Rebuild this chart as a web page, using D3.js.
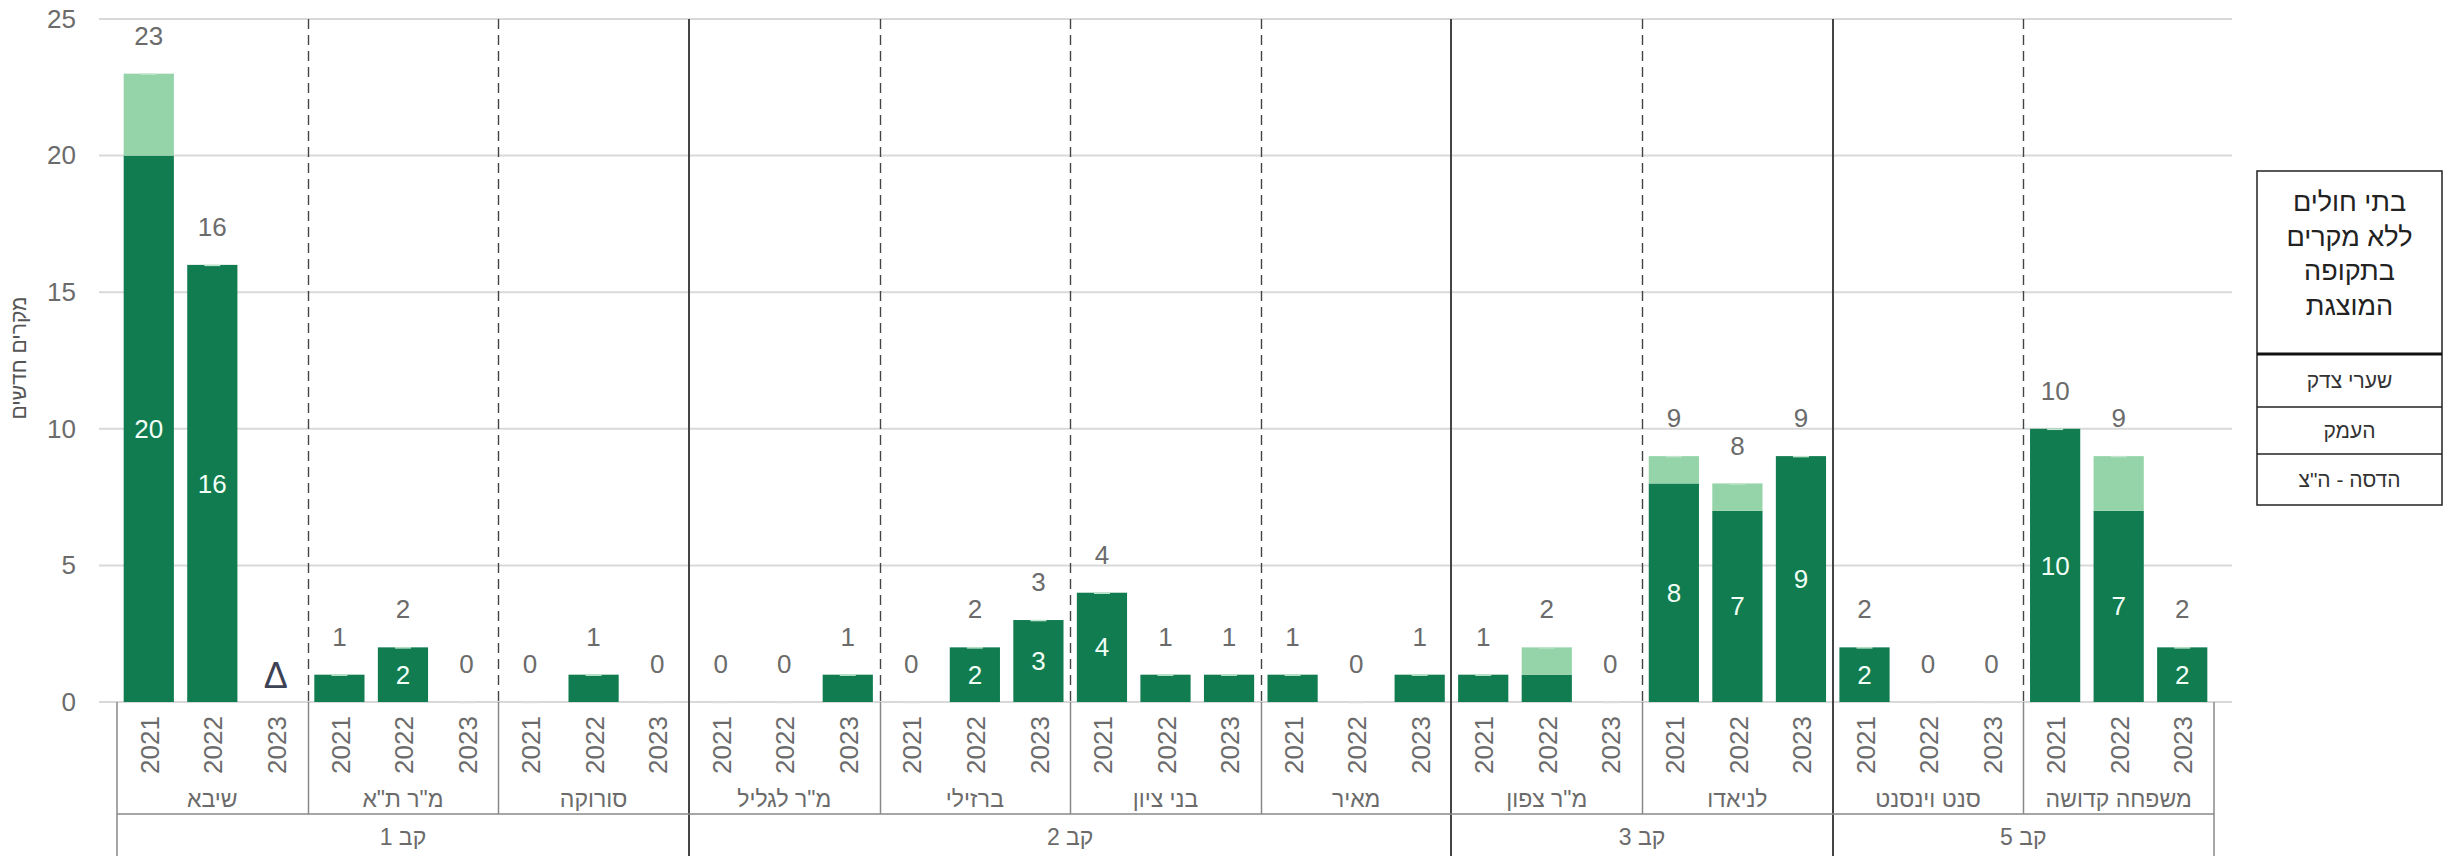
<!DOCTYPE html>
<html><head><meta charset="utf-8">
<script src="https://cdn.jsdelivr.net/npm/d3@7"></script>
<style>
html,body{margin:0;padding:0;background:#fff;}
svg{display:block;font-family:"Liberation Sans",Arial,sans-serif;}
.num{font-family:"Liberation Sans Narrow","Liberation Sans",Arial,sans-serif;}
</style></head>
<body>
<svg id="chart" width="2455" height="856"></svg>
<script>
// ---------- DATA ----------
const hospitals = ["שיבא","מ\"ר ת\"א","סורוקה","מ\"ר לגליל","ברזילי","בני ציון","מאיר","מ\"ר צפון","לניאדו","סנט וינסנט","משפחה קדושה"];
const kavs = ["קב 1","קב 2","קב 3","קב 5"];
const kavSizes = [3,4,2,2];
const years = ["2021","2022","2023"];
// dark series (main), null = no data (shown with Δ)
const darkValues = [[20,16,null],[1,2,0],[0,1,0],[0,0,1],[0,2,3],[4,1,1],[1,0,1],[1,1,0],[8,7,9],[2,0,0],[10,7,2]];
// light series (stacked above)
const lightValues = [[3,0,null],[0,0,0],[0,0,0],[0,0,0],[0,0,0],[0,0,0],[0,0,0],[0,1,0],[1,1,0],[0,0,0],[0,2,0]];
const yTicks = [0,5,10,15,20,25];
const yTitle = "מקרים חדשים";
const legendHeader = ["בתי חולים","ללא מקרים","בתקופה","המוצגת"];
const legendRows = ["שערי צדק","העמק","הדסה - ה\"צ"];
const missingSymbol = "Δ";

// ---------- LAYOUT ----------
const svg = d3.select("#chart");
const X0 = 117, X1 = 2214, Y0 = 702, YTOP = 19;
const C_DARK = "#117c50", C_LIGHT = "#95d4a9", C_GRID = "#d9d9d9", C_TXT = "#6b6b6b", C_LINE = "#444";
const NUM_SIZE = 26;

const rows = [];
hospitals.forEach((h,i)=>years.forEach((yr,j)=>{
  rows.push({key:h+"|"+yr, h, hi:i, yr, dark:darkValues[i][j], light:lightValues[i][j]});
}));

const x = d3.scaleBand().domain(rows.map(d=>d.key)).range([X0,X1]).paddingInner(0.21).paddingOuter(0.105);
const y = d3.scaleLinear().domain([0,25]).range([Y0,YTOP]);
const step = x.step();
const groupX = i => X0 + i*3*step;

// gridlines
svg.append("g").selectAll("line").data(yTicks).join("line")
  .attr("x1",99).attr("x2",2232).attr("y1",d=>y(d)).attr("y2",d=>y(d))
  .attr("stroke",C_GRID).attr("stroke-width",2);

// y axis labels
const yAxis = d3.axisLeft(y).tickValues(yTicks).tickSize(0).tickPadding(0);
const ya = svg.append("g").attr("transform","translate(76,0)").call(yAxis);
ya.select(".domain").remove();
ya.selectAll("text").attr("class","num").attr("font-size",NUM_SIZE).attr("fill",C_TXT).attr("font-family",null);

// y title
svg.append("text").attr("transform","translate(26,358) rotate(-90)")
  .attr("text-anchor","middle").attr("font-size",21).attr("fill","#555").text(yTitle);

// kav boundaries & hospital boundaries
let kavStart = [0]; kavSizes.forEach((s,i)=>kavStart.push(kavStart[i]+s));
const kavBound = new Set(kavStart);
for(let i=1;i<hospitals.length;i++){
  const xx = Math.round(groupX(i));
  if(kavBound.has(i)){
    svg.append("line").attr("x1",xx).attr("x2",xx).attr("y1",YTOP).attr("y2",856)
      .attr("stroke",C_LINE).attr("stroke-width",2);
  } else {
    svg.append("line").attr("x1",xx+0.5).attr("x2",xx+0.5).attr("y1",YTOP).attr("y2",Y0)
      .attr("stroke",C_LINE).attr("stroke-width",1.4).attr("stroke-dasharray","10,6");
    svg.append("line").attr("x1",xx+0.5).attr("x2",xx+0.5).attr("y1",Y0).attr("y2",814)
      .attr("stroke","#888").attr("stroke-width",1.5);
  }
}
// box edges
[X0,X1].forEach(xx=>svg.append("line").attr("x1",xx).attr("x2",xx).attr("y1",Y0).attr("y2",856)
  .attr("stroke","#888").attr("stroke-width",1.5));
svg.append("line").attr("x1",X0).attr("x2",X1).attr("y1",814).attr("y2",814)
  .attr("stroke","#888").attr("stroke-width",1.5);

// bars
const bars = svg.append("g");
rows.filter(d=>d.dark!==null).forEach(d=>{
  const bx = x(d.key), bw = x.bandwidth();
  if(d.dark>0) bars.append("rect").attr("x",bx).attr("width",bw)
    .attr("y",y(d.dark)).attr("height",y(0)-y(d.dark)).attr("fill",C_DARK);
  if(d.light>0) bars.append("rect").attr("x",bx).attr("width",bw)
    .attr("y",y(d.dark+d.light)).attr("height",y(d.dark)-y(d.dark+d.light)).attr("fill",C_LIGHT);
  const tot = d.dark+d.light;
  // small cap marks
  bars.append("line").attr("x1",bx+bw/2-8).attr("x2",bx+bw/2+8)
    .attr("y1",y(tot)+0.5).attr("y2",y(tot)+0.5)
    .attr("stroke",tot>0?"#bfe6cc":"#ddd").attr("stroke-width",1.5);
  // total label
  svg.append("text").attr("class","num").attr("x",bx+bw/2).attr("y",y(tot)-38).attr("dy","0.35em")
    .attr("text-anchor","middle").attr("font-size",NUM_SIZE).attr("fill",C_TXT).text(tot);
  // inner label
  if(d.dark>=2) svg.append("text").attr("class","num").attr("x",bx+bw/2).attr("y",(y(0)+y(d.dark))/2).attr("dy","0.35em")
    .attr("text-anchor","middle").attr("font-size",NUM_SIZE).attr("fill","#f2fff6").text(d.dark);
});
// missing marker
rows.filter(d=>d.dark===null).forEach(d=>{
  svg.append("text").attr("x",x(d.key)+x.bandwidth()/2).attr("y",y(0)-27).attr("dy","0.35em")
    .attr("text-anchor","middle").attr("font-size",36).attr("fill","#3d4354").text(missingSymbol);
});

// year labels
svg.append("g").selectAll("text").data(rows).join("text").attr("class","num")
  .attr("transform",d=>`translate(${x(d.key)+x.bandwidth()/2+1},745) rotate(-90)`)
  .attr("text-anchor","middle").attr("dy","0.35em").attr("font-size",NUM_SIZE).attr("fill",C_TXT)
  .text(d=>d.yr);

// hospital labels
svg.append("g").selectAll("text").data(hospitals).join("text")
  .attr("x",(d,i)=>groupX(i)+1.5*step).attr("y",799).attr("dy","0.35em")
  .attr("text-anchor","middle").attr("direction","rtl").attr("font-size",23).attr("fill",C_TXT).text(d=>d);

// kav labels
svg.append("g").selectAll("text").data(kavs).join("text")
  .attr("x",(d,i)=>(groupX(kavStart[i])+groupX(kavStart[i+1]))/2).attr("y",837).attr("dy","0.35em")
  .attr("text-anchor","middle").attr("direction","rtl").attr("font-size",23).attr("fill",C_TXT).text(d=>d);

// legend box
const L = {x:2257, w:185, top:171, hdr:354, r1:407, r2:454, bot:505};
const lg = svg.append("g");
lg.append("rect").attr("x",L.x).attr("y",L.top).attr("width",L.w).attr("height",L.bot-L.top)
  .attr("fill","#fff").attr("stroke","#222").attr("stroke-width",1.5);
lg.append("line").attr("x1",L.x).attr("x2",L.x+L.w).attr("y1",L.hdr).attr("y2",L.hdr).attr("stroke","#111").attr("stroke-width",3);
[L.r1,L.r2].forEach(yy=>lg.append("line").attr("x1",L.x).attr("x2",L.x+L.w).attr("y1",yy).attr("y2",yy).attr("stroke","#222").attr("stroke-width",1.5));
const cx = L.x+L.w/2;
legendHeader.forEach((t,i)=>lg.append("text").attr("x",cx).attr("y",202+i*34.5).attr("dy","0.35em")
  .attr("text-anchor","middle").attr("direction","rtl").attr("font-size",27).attr("fill","#222").text(t));
const rowMid = [(L.hdr+L.r1)/2,(L.r1+L.r2)/2,(L.r2+L.bot)/2];
legendRows.forEach((t,i)=>lg.append("text").attr("x",cx).attr("y",rowMid[i]).attr("dy","0.35em")
  .attr("text-anchor","middle").attr("direction","rtl").attr("font-size",21).attr("fill","#333").text(t));
</script>
</body></html>
